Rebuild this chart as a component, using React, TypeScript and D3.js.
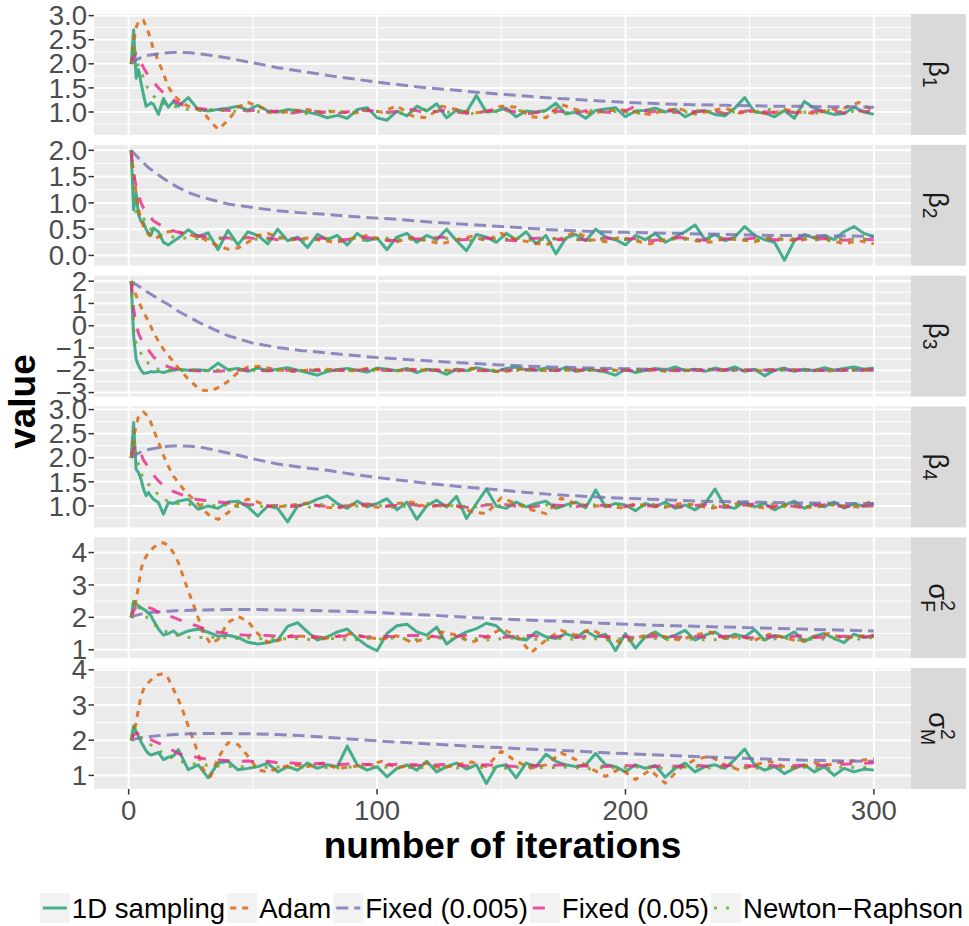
import React from "react";
import * as d3 from "d3";

// iteration grids (sampled iterations for each kind of series)
const ITER_SAMPLING = [
  1, 2, 3, 4, 5, 6, 7, 8, 9, 10,
  12, 14, 16, 18, 20, 24, 28, 32, 36, 40,
  44, 48, 52, 56, 60, 64, 68, 72, 76, 80,
  84, 88, 92, 96, 100, 104, 108, 112, 116, 120,
  124, 128, 132, 136, 140, 144, 148, 152, 156, 160,
  164, 168, 172, 176, 180, 184, 188, 192, 196, 200,
  204, 208, 212, 216, 220, 224, 228, 232, 236, 240,
  244, 248, 252, 256, 260, 264, 268, 272, 276, 280,
  284, 288, 292, 296, 300,
];
const ITER_STEP = [
  1, 2, 3, 4, 5, 6, 8, 10, 12, 14,
  16, 18, 20, 22, 24, 27, 30, 33, 36, 40,
  44, 48, 52, 56, 60, 66, 72, 78, 84, 90,
  96, 102, 108, 114, 120, 126, 132, 138, 144, 150,
  156, 162, 168, 174, 180, 186, 192, 198, 204, 210,
  216, 222, 228, 234, 240, 246, 252, 258, 264, 270,
  276, 282, 288, 294, 300,
];
const ITER_FIXED = [
  1, 3, 5, 8, 12, 16, 20, 25, 30, 40,
  50, 60, 70, 80, 90, 100, 110, 120, 130, 140,
  150, 160, 170, 180, 190, 200, 210, 220, 230, 240,
  250, 260, 270, 280, 290, 300,
];

const METHODS = ["1D sampling", "Adam", "Fixed (0.005)", "Fixed (0.05)", "Newton\u2212Raphson"];
const COLORS = ["#1B9E77", "#D95F02", "#7570B3", "#E7298A", "#66A61E"];
const DASHES = ["none", "6,6", "12,6", "12,12", "3,9"];
const X_TICKS = [0, 100, 200, 300];
// strip labels: base, superscript, subscript
const STRIPS = [
  ["\u03b2", "", "1"],
  ["\u03b2", "", "2"],
  ["\u03b2", "", "3"],
  ["\u03b2", "", "4"],
  ["\u03c3", "2", "F"],
  ["\u03c3", "2", "M"],
];

// beta 1
const B1_SAMPLING = [
  2.00, 2.70, 1.70, 1.88, 1.60, 1.35, 1.12, 1.15, 1.19, 1.16,
  0.95, 1.28, 1.10, 1.22, 1.12, 1.30, 1.05, 1.02, 1.05, 1.08,
  1.12, 1.04, 1.14, 1.02, 1.00, 1.05, 1.03, 1.00, 0.95, 0.88,
  0.93, 0.87, 1.05, 1.09, 0.88, 0.83, 1.02, 0.92, 1.12, 1.02,
  1.17, 0.88, 1.04, 1.00, 1.34, 1.00, 1.02, 1.08, 0.90, 1.02,
  1.00, 1.03, 1.18, 0.96, 1.00, 0.87, 1.03, 1.06, 1.09, 0.90,
  1.02, 1.03, 1.08, 1.00, 1.06, 0.90, 1.00, 1.03, 0.95, 0.92,
  1.08, 1.30, 1.00, 0.98, 0.90, 1.03, 0.87, 1.22, 1.08, 1.00,
  0.95, 0.97, 1.10, 1.00, 0.95,
];
const B1_ADAM = [
  2.00, 2.45, 2.75, 2.88, 2.92, 2.90, 2.65, 2.30, 2.05, 1.80,
  1.52, 1.36, 1.26, 1.18, 1.12, 1.07, 1.00, 0.80, 0.64, 0.82,
  1.10, 1.20, 1.12, 1.04, 0.98, 1.02, 1.05, 0.98, 1.02, 0.97,
  1.03, 1.00, 1.13, 0.92, 0.88, 1.12, 1.05, 0.98, 1.00, 1.12,
  1.10, 0.90, 0.88, 1.16, 1.05, 0.98, 1.02, 1.05, 1.00, 0.95,
  1.04, 1.06, 0.96, 1.02, 1.08, 0.98, 1.02, 0.95, 1.05, 1.00,
  0.97, 1.05, 1.08, 1.20, 1.02,
];
const B1_FIXED_005 = [
  2.00, 2.08, 2.13, 2.18, 2.21, 2.23, 2.24, 2.23, 2.20, 2.12,
  2.02, 1.92, 1.84, 1.76, 1.69, 1.62, 1.56, 1.50, 1.46, 1.41,
  1.37, 1.33, 1.29, 1.26, 1.23, 1.20, 1.18, 1.16, 1.15, 1.14,
  1.13, 1.12, 1.12, 1.11, 1.11, 1.10,
];
const B1_FIXED_05 = [
  2.00, 2.15, 2.22, 2.15, 2.02, 1.92, 1.75, 1.62, 1.50, 1.40,
  1.32, 1.25, 1.19, 1.14, 1.11, 1.08, 1.06, 1.04, 1.05, 1.03,
  1.05, 1.02, 1.04, 1.00, 1.02, 0.98, 1.03, 1.00, 0.97, 1.02,
  1.04, 0.99, 1.01, 1.05, 0.98, 1.03, 1.00, 0.96, 1.02, 1.06,
  1.00, 0.97, 1.03, 1.01, 0.98, 1.05, 1.00, 0.97, 1.12, 1.00,
  1.04, 0.98, 1.01, 1.03, 0.97, 1.00, 1.04, 0.99, 1.02, 0.97,
  1.01, 1.04, 0.98, 1.02, 1.00,
];
const B1_NEWTON = [
  2.00, 2.37, 2.12, 1.95, 1.85, 1.70, 1.45, 1.33, 1.25, 1.18,
  1.14, 1.12, 1.10, 1.07, 1.05, 1.06, 1.03, 1.05, 1.02, 1.04,
  1.00, 1.03, 1.01, 0.98, 1.02, 1.00, 0.97, 1.03, 1.01, 0.98,
  1.04, 1.00, 0.96, 1.02, 1.05, 0.99, 1.01, 0.97, 1.03, 1.00,
  1.04, 0.98, 1.02, 0.97, 1.01, 1.03, 0.99, 1.02, 0.96, 1.04,
  1.00, 0.98, 1.03, 1.01, 0.97, 1.02, 1.00, 1.05, 0.98, 1.01,
  0.97, 1.03, 1.00, 1.02, 0.97,
];

// beta 2
const B2_SAMPLING = [
  2.00, 0.87, 1.19, 0.77, 0.65, 0.62, 0.50, 0.42, 0.39, 0.52,
  0.45, 0.25, 0.20, 0.27, 0.33, 0.49, 0.36, 0.43, 0.11, 0.48,
  0.20, 0.45, 0.38, 0.22, 0.50, 0.28, 0.35, 0.15, 0.40, 0.30,
  0.38, 0.20, 0.42, 0.28, 0.33, 0.11, 0.35, 0.42, 0.25, 0.38,
  0.30, 0.50, 0.28, 0.09, 0.40, 0.35, 0.25, 0.42, 0.30, 0.45,
  0.22, 0.38, 0.03, 0.33, 0.40, 0.28, 0.50, 0.35, 0.30, 0.20,
  0.38, 0.30, 0.42, 0.25, 0.35, 0.45, 0.58, 0.30, 0.40, 0.28,
  0.35, 0.55, 0.38, 0.30, 0.25, -0.09, 0.28, 0.40, 0.33, 0.38,
  0.30, 0.45, 0.55, 0.42, 0.36,
];
const B2_ADAM = [
  2.00, 1.57, 1.19, 0.87, 0.68, 0.55, 0.40, 0.32, 0.35, 0.42,
  0.45, 0.46, 0.45, 0.42, 0.40, 0.36, 0.32, 0.25, 0.18, 0.12,
  0.14, 0.25, 0.38, 0.42, 0.35, 0.30, 0.33, 0.28, 0.25, 0.32,
  0.38, 0.30, 0.26, 0.34, 0.28, 0.22, 0.30, 0.36, 0.28, 0.42,
  0.30, 0.25, 0.20, 0.32, 0.45, 0.30, 0.26, 0.35, 0.28, 0.22,
  0.30, 0.35, 0.28, 0.25, 0.32, 0.30, 0.26, 0.34, 0.30, 0.28,
  0.35, 0.30, 0.22, 0.28, 0.22,
];
const B2_FIXED_005 = [
  2.00, 1.90, 1.80, 1.67, 1.53, 1.40, 1.29, 1.18, 1.10, 0.98,
  0.91, 0.85, 0.81, 0.78, 0.74, 0.71, 0.68, 0.64, 0.61, 0.58,
  0.55, 0.52, 0.49, 0.47, 0.45, 0.44, 0.43, 0.42, 0.41, 0.40,
  0.39, 0.38, 0.38, 0.37, 0.37, 0.36,
];
const B2_FIXED_05 = [
  2.00, 1.55, 1.32, 1.15, 1.00, 0.90, 0.76, 0.66, 0.60, 0.55,
  0.50, 0.47, 0.44, 0.42, 0.40, 0.38, 0.36, 0.34, 0.33, 0.33,
  0.32, 0.34, 0.31, 0.33, 0.30, 0.32, 0.30, 0.33, 0.29, 0.31,
  0.34, 0.30, 0.28, 0.32, 0.31, 0.35, 0.29, 0.31, 0.33, 0.30,
  0.28, 0.32, 0.34, 0.30, 0.31, 0.29, 0.33, 0.30, 0.32, 0.28,
  0.31, 0.34, 0.30, 0.29, 0.32, 0.30, 0.33, 0.31, 0.28, 0.32,
  0.30, 0.33, 0.29, 0.31, 0.30,
];
const B2_NEWTON = [
  2.00, 1.25, 0.80, 0.75, 0.74, 0.70, 0.55, 0.45, 0.40, 0.38,
  0.36, 0.35, 0.34, 0.33, 0.33, 0.32, 0.34, 0.31, 0.33, 0.30,
  0.32, 0.34, 0.30, 0.31, 0.33, 0.31, 0.29, 0.33, 0.30, 0.32,
  0.28, 0.34, 0.30, 0.31, 0.29, 0.33, 0.31, 0.28, 0.32, 0.30,
  0.34, 0.29, 0.31, 0.33, 0.30, 0.28, 0.32, 0.31, 0.29, 0.33,
  0.30, 0.32, 0.28, 0.31, 0.34, 0.30, 0.29, 0.32, 0.31, 0.33,
  0.30, 0.28, 0.32, 0.30, 0.31,
];

// beta 3
const B3_SAMPLING = [
  2.00, -0.45, -1.50, -1.80, -2.00, -2.13, -2.12, -2.10, -2.05, -2.08,
  -2.05, -2.10, -2.03, -2.00, -1.95, -2.00, -1.98, -2.02, -1.68, -1.98,
  -1.92, -2.05, -1.90, -2.02, -1.95, -1.88, -2.00, -2.10, -2.22, -2.05,
  -1.98, -1.92, -2.00, -2.08, -1.90, -1.95, -2.02, -1.92, -2.10, -1.95,
  -2.00, -2.18, -1.95, -2.02, -1.88, -1.98, -2.05, -1.92, -1.85, -1.98,
  -2.00, -1.90, -2.02, -1.88, -2.05, -1.95, -2.00, -2.08, -2.22, -1.95,
  -2.10, -2.00, -1.92, -2.00, -1.85, -2.02, -1.95, -2.05, -1.90, -2.00,
  -1.85, -2.05, -1.95, -2.25, -2.00, -1.90, -2.05, -1.95, -2.02, -1.88,
  -2.00, -1.92, -1.85, -1.95, -1.90,
];
const B3_ADAM = [
  2.00, 1.70, 1.35, 1.10, 0.85, 0.60, 0.20, -0.30, -0.70, -1.05,
  -1.35, -1.60, -1.90, -2.15, -2.40, -2.70, -2.90, -2.93, -2.78, -2.50,
  -2.10, -1.85, -1.82, -1.90, -1.98, -2.05, -2.00, -1.95, -1.98, -2.02,
  -1.92, -1.98, -2.03, -1.95, -2.00, -1.97, -2.05, -1.92, -2.00, -2.08,
  -1.98, -1.93, -2.02, -1.96, -2.04, -1.98, -1.95, -2.02, -2.00, -1.96,
  -2.04, -1.98, -2.02, -1.95, -2.00, -1.97, -2.03, -1.98, -1.94, -2.01,
  -1.97, -2.03, -1.98, -1.95, -2.00,
];
const B3_FIXED_005 = [
  2.00, 1.85, 1.70, 1.48, 1.20, 0.95, 0.65, 0.35, 0.05, -0.45,
  -0.78, -0.98, -1.12, -1.22, -1.33, -1.43, -1.50, -1.57, -1.64, -1.70,
  -1.76, -1.81, -1.85, -1.88, -1.91, -1.93, -1.95, -1.96, -1.97, -1.98,
  -1.98, -1.99, -1.99, -2.00, -2.00, -2.00,
];
const B3_FIXED_05 = [
  2.00, 0.75, 0.10, -0.35, -0.60, -0.82, -1.10, -1.40, -1.60, -1.75,
  -1.85, -1.92, -1.96, -1.98, -2.00, -2.02, -2.03, -2.05, -2.04, -2.02,
  -2.00, -1.98, -2.00, -2.02, -1.99, -2.00, -1.98, -2.02, -1.99, -2.01,
  -1.97, -2.00, -2.02, -1.98, -2.00, -2.01, -1.98, -2.00, -2.02, -1.99,
  -2.00, -1.97, -2.01, -2.00, -1.98, -2.02, -2.00, -1.99, -2.01, -1.98,
  -2.00, -2.02, -1.99, -2.00, -1.98, -2.01, -2.00, -1.99, -2.02, -1.98,
  -2.00, -2.01, -1.99, -2.00, -1.98,
];
const B3_NEWTON = [
  2.00, -0.15, -0.80, -1.05, -1.25, -1.42, -1.70, -1.88, -1.95, -1.98,
  -2.00, -1.98, -2.00, -2.02, -2.00, -1.98, -2.00, -2.02, -1.99, -2.00,
  -1.98, -2.01, -2.00, -1.98, -2.00, -1.99, -2.01, -2.00, -1.98, -2.02,
  -2.00, -1.99, -2.01, -1.98, -2.00, -2.02, -1.99, -2.00, -1.98, -2.01,
  -2.00, -1.99, -2.02, -1.98, -2.00, -2.01, -1.99, -2.00, -1.98, -2.02,
  -2.00, -1.99, -2.01, -1.98, -2.00, -2.02, -1.99, -2.00, -1.98, -2.01,
  -2.00, -1.99, -2.02, -1.98, -2.00,
];

// beta 4
const B4_SAMPLING = [
  2.00, 2.73, 1.76, 1.69, 1.55, 1.35, 1.21, 1.28, 1.20, 1.14,
  1.07, 0.83, 1.07, 1.05, 1.10, 1.14, 0.93, 1.00, 0.95, 1.08,
  1.10, 0.98, 0.79, 1.00, 0.95, 0.67, 1.00, 1.05, 1.14, 1.21,
  1.05, 0.95, 1.10, 0.98, 1.05, 1.15, 0.92, 1.08, 0.72, 1.00,
  1.12, 0.98, 1.20, 0.74, 1.05, 1.35, 1.00, 0.95, 1.08, 0.98,
  1.05, 1.10, 0.95, 1.02, 1.08, 0.96, 1.33, 0.98, 1.05, 1.02,
  0.90, 1.05, 0.98, 1.08, 0.95, 1.02, 0.92, 1.05, 1.35, 1.00,
  0.95, 1.08, 0.98, 1.05, 0.92, 1.02, 1.10, 0.95, 1.05, 0.98,
  1.08, 0.96, 1.04, 1.00, 1.05,
];
const B4_ADAM = [
  2.00, 2.40, 2.68, 2.85, 2.93, 2.95, 2.85, 2.59, 2.32, 2.05,
  1.82, 1.62, 1.49, 1.35, 1.24, 1.10, 0.92, 0.78, 0.72, 0.86,
  1.05, 1.14, 1.08, 1.00, 0.98, 1.02, 1.06, 0.98, 0.95, 1.03,
  1.00, 0.96, 1.05, 1.08, 0.98, 1.02, 1.00, 0.88, 0.84, 1.17,
  1.05, 0.92, 0.84, 1.16, 1.05, 0.98, 1.02, 0.96, 1.04, 1.00,
  0.97, 1.05, 1.02, 0.95, 1.00, 1.06, 0.98, 0.95, 1.02, 1.00,
  0.96, 1.03, 1.00, 0.98, 1.12,
];
const B4_FIXED_005 = [
  2.00, 2.07, 2.12, 2.17, 2.21, 2.24, 2.25, 2.24, 2.21, 2.10,
  1.98, 1.87, 1.80, 1.74, 1.66, 1.59, 1.53, 1.47, 1.42, 1.37,
  1.33, 1.28, 1.24, 1.21, 1.18, 1.16, 1.14, 1.12, 1.10, 1.09,
  1.08, 1.07, 1.06, 1.06, 1.05, 1.05,
];
const B4_FIXED_05 = [
  2.00, 2.18, 2.25, 2.20, 2.08, 1.95, 1.80, 1.64, 1.52, 1.42,
  1.35, 1.30, 1.26, 1.22, 1.18, 1.14, 1.12, 1.10, 1.08, 1.06,
  1.05, 1.03, 1.02, 1.00, 1.01, 0.99, 1.03, 1.00, 0.97, 1.02,
  1.04, 0.99, 1.01, 1.03, 0.98, 1.02, 1.00, 0.96, 1.02, 1.04,
  1.00, 0.97, 1.03, 1.01, 0.98, 1.04, 1.00, 0.97, 1.02, 1.00,
  1.03, 0.98, 1.01, 1.03, 0.97, 1.00, 1.04, 0.99, 1.02, 0.97,
  1.01, 1.03, 0.98, 1.00, 1.00,
];
const B4_NEWTON = [
  2.00, 2.32, 2.05, 1.85, 1.68, 1.55, 1.45, 1.36, 1.22, 1.14,
  1.10, 1.07, 1.05, 1.04, 1.03, 1.02, 1.03, 1.01, 1.00, 1.02,
  0.99, 1.01, 1.00, 0.98, 1.01, 1.00, 0.97, 1.03, 1.01, 0.98,
  1.04, 1.00, 0.96, 1.02, 1.05, 0.99, 1.01, 0.97, 1.03, 1.00,
  1.04, 0.98, 1.02, 0.97, 1.01, 1.03, 0.99, 1.02, 0.96, 1.04,
  1.00, 0.98, 1.03, 1.01, 0.97, 1.02, 1.00, 1.05, 0.98, 1.01,
  0.97, 1.03, 1.00, 1.02, 0.98,
];

// sigma^2 F
const SF_SAMPLING = [
  2.00, 2.50, 2.42, 2.35, 2.30, 2.25, 2.20, 2.12, 2.05, 1.90,
  1.64, 1.45, 1.50, 1.58, 1.45, 1.58, 1.64, 1.54, 1.42, 1.45,
  1.38, 1.23, 1.18, 1.22, 1.30, 1.72, 1.84, 1.55, 1.30, 1.40,
  1.55, 1.64, 1.35, 1.12, 0.97, 1.50, 1.74, 1.79, 1.55, 1.45,
  1.70, 1.18, 1.40, 1.55, 1.65, 1.82, 1.74, 1.45, 1.35, 1.30,
  1.55, 1.40, 1.35, 1.50, 1.38, 1.58, 1.40, 1.48, 0.97, 1.50,
  1.05, 1.40, 1.55, 1.35, 1.45, 1.60, 1.30, 1.45, 1.55, 1.35,
  1.48, 1.40, 1.62, 1.30, 1.45, 1.38, 1.55, 1.25, 1.42, 1.50,
  1.35, 1.22, 1.48, 1.38, 1.43,
];
const SF_ADAM = [
  2.00, 2.30, 2.51, 3.00, 3.48, 3.75, 4.00, 4.15, 4.27, 4.30,
  4.22, 4.00, 3.69, 3.25, 2.82, 2.20, 1.55, 1.18, 1.32, 1.84,
  2.03, 1.88, 1.50, 1.23, 1.28, 1.45, 1.40, 1.33, 1.42, 1.50,
  1.38, 1.33, 1.43, 1.23, 1.35, 1.55, 1.45, 1.23, 1.40, 1.64,
  1.45, 0.91, 1.30, 1.60, 1.45, 1.64, 1.40, 1.23, 1.35, 1.50,
  1.40, 1.30, 1.45, 1.55, 1.35, 1.42, 1.30, 1.48, 1.38, 1.25,
  1.40, 1.50, 1.35, 1.42, 1.45,
];
const SF_FIXED_005 = [
  2.00, 2.06, 2.10, 2.14, 2.17, 2.19, 2.21, 2.22, 2.23, 2.24,
  2.24, 2.23, 2.22, 2.20, 2.18, 2.15, 2.11, 2.07, 2.03, 1.99,
  1.95, 1.92, 1.89, 1.86, 1.82, 1.79, 1.76, 1.74, 1.72, 1.70,
  1.68, 1.66, 1.64, 1.62, 1.60, 1.58,
];
const SF_FIXED_05 = [
  2.00, 2.20, 2.32, 2.35, 2.34, 2.32, 2.30, 2.25, 2.15, 2.10,
  2.05, 2.00, 1.94, 1.88, 1.82, 1.75, 1.66, 1.58, 1.54, 1.50,
  1.47, 1.45, 1.46, 1.44, 1.42, 1.40, 1.43, 1.38, 1.41, 1.44,
  1.39, 1.42, 1.40, 1.45, 1.43, 1.38, 1.41, 1.46, 1.40, 1.37,
  1.42, 1.44, 1.39, 1.41, 1.38, 1.43, 1.40, 1.42, 1.37, 1.40,
  1.43, 1.39, 1.41, 1.38, 1.42, 1.40, 1.36, 1.41, 1.39, 1.43,
  1.38, 1.40, 1.42, 1.39, 1.41,
];
const SF_NEWTON = [
  2.00, 2.50, 2.45, 2.33, 2.20, 2.10, 1.95, 1.80, 1.68, 1.60,
  1.53, 1.48, 1.44, 1.40, 1.38, 1.40, 1.37, 1.39, 1.36, 1.38,
  1.35, 1.37, 1.34, 1.36, 1.33, 1.35, 1.32, 1.36, 1.34, 1.30,
  1.35, 1.33, 1.37, 1.31, 1.34, 1.36, 1.32, 1.35, 1.30, 1.34,
  1.37, 1.33, 1.31, 1.35, 1.32, 1.36, 1.30, 1.34, 1.33, 1.37,
  1.31, 1.35, 1.32, 1.30, 1.34, 1.36, 1.31, 1.33, 1.35, 1.30,
  1.34, 1.32, 1.36, 1.33, 1.38,
];

// sigma^2 M
const SM_SAMPLING = [
  2.00, 2.40, 2.25, 2.10, 1.95, 1.83, 1.70, 1.62, 1.58, 1.60,
  1.65, 1.45, 1.52, 1.55, 1.73, 1.16, 1.30, 0.93, 1.35, 1.40,
  1.16, 1.20, 1.25, 1.35, 1.10, 1.25, 1.15, 1.35, 1.20, 1.30,
  1.25, 1.83, 1.30, 1.15, 1.25, 0.96, 1.20, 1.30, 1.15, 1.40,
  1.10, 1.25, 1.35, 1.18, 1.30, 0.77, 1.25, 1.30, 0.93, 1.35,
  1.25, 1.60, 1.40, 1.30, 1.25, 1.30, 1.62, 1.30, 1.25, 1.10,
  1.30, 1.20, 1.28, 0.95, 1.20, 1.35, 1.10, 1.25, 1.30, 1.20,
  1.45, 1.75, 1.30, 1.15, 1.25, 1.05, 1.20, 1.30, 1.10, 1.25,
  1.00, 1.20, 1.10, 1.18, 1.15,
];
const SM_ADAM = [
  2.00, 2.20, 2.50, 2.90, 3.26, 3.45, 3.64, 3.78, 3.86, 3.89,
  3.75, 3.45, 3.16, 2.80, 2.40, 1.83, 1.16, 0.97, 1.50, 1.93,
  1.88, 1.55, 1.16, 1.10, 1.20, 1.30, 1.25, 1.35, 1.20, 1.25,
  1.30, 1.40, 1.22, 1.28, 1.35, 1.20, 1.30, 1.38, 1.25, 1.69,
  1.40, 1.20, 1.30, 1.64, 1.45, 1.20, 0.97, 1.20, 0.88, 1.15,
  0.78, 1.20, 1.45, 1.55, 1.30, 1.15, 1.30, 1.40, 1.25, 1.20,
  1.35, 1.30, 1.40, 1.42, 1.48,
];
const SM_FIXED_005 = [
  2.00, 2.04, 2.07, 2.10, 2.13, 2.15, 2.17, 2.18, 2.19, 2.19,
  2.18, 2.16, 2.13, 2.08, 2.03, 1.98, 1.94, 1.90, 1.86, 1.82,
  1.79, 1.75, 1.72, 1.69, 1.65, 1.62, 1.59, 1.56, 1.53, 1.51,
  1.48, 1.46, 1.44, 1.42, 1.41, 1.40,
];
const SM_FIXED_05 = [
  2.00, 2.15, 2.20, 2.18, 2.15, 2.12, 2.05, 1.98, 1.92, 1.85,
  1.78, 1.70, 1.62, 1.58, 1.55, 1.52, 1.48, 1.45, 1.44, 1.42,
  1.40, 1.41, 1.38, 1.40, 1.36, 1.35, 1.32, 1.34, 1.30, 1.33,
  1.31, 1.28, 1.32, 1.30, 1.27, 1.31, 1.29, 1.26, 1.30, 1.28,
  1.25, 1.29, 1.27, 1.30, 1.26, 1.28, 1.25, 1.29, 1.27, 1.24,
  1.28, 1.26, 1.29, 1.25, 1.27, 1.30, 1.26, 1.28, 1.25, 1.29,
  1.27, 1.30, 1.32, 1.34, 1.36,
];
const SM_NEWTON = [
  2.00, 2.35, 2.25, 2.12, 2.05, 1.98, 1.90, 1.82, 1.72, 1.62,
  1.55, 1.48, 1.42, 1.38, 1.35, 1.32, 1.30, 1.28, 1.27, 1.26,
  1.25, 1.24, 1.25, 1.23, 1.24, 1.22, 1.25, 1.23, 1.21, 1.24,
  1.22, 1.25, 1.20, 1.23, 1.22, 1.26, 1.21, 1.24, 1.22, 1.20,
  1.23, 1.25, 1.21, 1.24, 1.22, 1.19, 1.23, 1.21, 1.24, 1.22,
  1.20, 1.23, 1.25, 1.21, 1.22, 1.24, 1.20, 1.23, 1.21, 1.25,
  1.22, 1.20, 1.24, 1.22, 1.23,
];

const ITERS = [ITER_SAMPLING, ITER_STEP, ITER_FIXED, ITER_STEP, ITER_STEP];
const PANELS = [
  [B1_SAMPLING, B1_ADAM, B1_FIXED_005, B1_FIXED_05, B1_NEWTON],
  [B2_SAMPLING, B2_ADAM, B2_FIXED_005, B2_FIXED_05, B2_NEWTON],
  [B3_SAMPLING, B3_ADAM, B3_FIXED_005, B3_FIXED_05, B3_NEWTON],
  [B4_SAMPLING, B4_ADAM, B4_FIXED_005, B4_FIXED_05, B4_NEWTON],
  [SF_SAMPLING, SF_ADAM, SF_FIXED_005, SF_FIXED_05, SF_NEWTON],
  [SM_SAMPLING, SM_ADAM, SM_FIXED_005, SM_FIXED_05, SM_NEWTON],
];

const W = 969;
const H = 926;
const LEFT = 94;
const RIGHT = 911;
const STRIP_W = 55;
const TOP = 14;
const BOTTOM = 789;
const GAP = 10;
const FONT = "'Liberation Sans', Arial, Helvetica, sans-serif";
const FS = 27.6;
const TITLE_FS = 37;

const expand = ([lo, hi]: number[]) => [lo - 0.05 * (hi - lo), hi + 0.05 * (hi - lo)];
const minus = (s: string) => s.replace("-", "\u2212");

let ctx: CanvasRenderingContext2D | null = null;
function textWidth(s: string, size: number, weight = "normal") {
  if (!ctx) ctx = document.createElement("canvas").getContext("2d");
  if (!ctx) return s.length * size * 0.55;
  ctx.font = `${weight} ${size}px ${FONT}`;
  return ctx.measureText(s).width;
}

function minorsOf(ticks: number[], domain: number[]) {
  const step = ticks[1] - ticks[0];
  const m = ticks.map((t) => t - step / 2).concat([ticks[ticks.length - 1] + step / 2]);
  return m.filter((v) => v >= domain[0] && v <= domain[1]);
}

function Strip({ cx, cy, label }: { cx: number; cy: number; label: string[] }) {
  const [base, sup, sub] = label;
  const small = FS * 0.7;
  const wb = textWidth(base, FS);
  const ws = Math.max(sup ? textWidth(sup, small) : 0, textWidth(sub, small));
  const x0 = -(wb + ws) / 2;
  const by = FS * 0.33;
  return (
    <g transform={`translate(${cx},${cy}) rotate(90)`} fill="#1A1A1A" fontFamily={FONT}>
      <text x={x0} y={by} fontSize={FS}>{base}</text>
      {sup && <text x={x0 + wb} y={by - FS * 0.42} fontSize={small}>{sup}</text>}
      <text x={x0 + wb} y={by + (sup ? FS * 0.3 : FS * 0.22)} fontSize={small}>{sub}</text>
    </g>
  );
}

export default function App() {
  const panelH = (BOTTOM - TOP - GAP * (PANELS.length - 1)) / PANELS.length;
  const x = d3.scaleLinear().domain(expand(d3.extent(ITER_SAMPLING) as number[])).range([LEFT, RIGHT]);
  const xDomain = x.domain();
  const xMinor = minorsOf(X_TICKS, xDomain);

  const panels = PANELS.map((series, pi) => {
    const top = TOP + pi * (panelH + GAP);
    const all = series.flat();
    const y = d3.scaleLinear().domain(expand(d3.extent(all) as number[])).range([top + panelH, top]);
    const ticks = y.ticks(4);
    const step = ticks[1] - ticks[0];
    const fmt = d3.format(`.${d3.precisionFixed(step)}f`);
    const minor = minorsOf(ticks, y.domain());
    const line = d3
      .line<[number, number]>()
      .x((d) => x(d[0]))
      .y((d) => y(d[1]));
    return { top, y, ticks, fmt, minor, series, line };
  });

  // legend layout
  const keyW = 30;
  const items = METHODS.map((m) => ({ m, w: textWidth(m, FS) }));
  const total = d3.sum(items, (d) => keyW + 2 + d.w + 2);
  let cursor = (LEFT + RIGHT) / 2 - total / 2;
  const legend = items.map((d, i) => {
    const pos = cursor;
    cursor += keyW + 2 + d.w + 2;
    return { ...d, x: pos, i };
  });
  const legendTop = 893;

  return (
    <svg
      width={W}
      height={H}
      style={{ position: "absolute", left: 0, top: 0, background: "#fff" }}
      fontFamily={FONT}
    >
      <defs>
        {panels.map((p, pi) => (
          <clipPath id={`clip${pi}`} key={pi}>
            <rect x={LEFT} y={p.top} width={RIGHT - LEFT} height={panelH} />
          </clipPath>
        ))}
      </defs>
      {panels.map((p, pi) => (
        <g key={pi}>
          <rect x={LEFT} y={p.top} width={RIGHT - LEFT} height={panelH} fill="#EBEBEB" />
          {p.minor.map((v) => (
            <line key={`ym${v}`} x1={LEFT} x2={RIGHT} y1={p.y(v)} y2={p.y(v)} stroke="#fff" strokeWidth={1} />
          ))}
          {xMinor.map((v) => (
            <line key={`xm${v}`} x1={x(v)} x2={x(v)} y1={p.top} y2={p.top + panelH} stroke="#fff" strokeWidth={1} />
          ))}
          {p.ticks.map((v) => (
            <line key={`yM${v}`} x1={LEFT} x2={RIGHT} y1={p.y(v)} y2={p.y(v)} stroke="#fff" strokeWidth={2} />
          ))}
          {X_TICKS.map((v) => (
            <line key={`xM${v}`} x1={x(v)} x2={x(v)} y1={p.top} y2={p.top + panelH} stroke="#fff" strokeWidth={2} />
          ))}
          <g clipPath={`url(#clip${pi})`}>
            {p.series.map((vals, si) => (
              <path
                key={si}
                d={p.line(d3.zip(ITERS[si], vals) as [number, number][]) || ""}
                fill="none"
                stroke={COLORS[si]}
                strokeOpacity={0.8}
                strokeWidth={3}
                strokeDasharray={DASHES[si]}
                strokeLinejoin="round"
              />
            ))}
          </g>
          {p.ticks.map((v) => (
            <g key={`t${v}`}>
              <line x1={LEFT - 5.5} x2={LEFT} y1={p.y(v)} y2={p.y(v)} stroke="#333333" strokeWidth={1.5} />
              <text x={LEFT - 7} y={p.y(v)} dy="0.35em" textAnchor="end" fontSize={FS} fill="#4D4D4D">
                {minus(p.fmt(v))}
              </text>
            </g>
          ))}
          <rect x={RIGHT} y={p.top} width={STRIP_W} height={panelH} fill="#D9D9D9" />
          <Strip cx={RIGHT + STRIP_W / 2} cy={p.top + panelH / 2} label={STRIPS[pi]} />
        </g>
      ))}

      {X_TICKS.map((v) => (
        <g key={`xt${v}`}>
          <line x1={x(v)} x2={x(v)} y1={BOTTOM} y2={BOTTOM + 5.5} stroke="#333333" strokeWidth={1.5} />
          <text x={x(v)} y={820} textAnchor="middle" fontSize={FS} fill="#4D4D4D">
            {v}
          </text>
        </g>
      ))}

      <text x={(LEFT + RIGHT) / 2} y={858} textAnchor="middle" fontSize={TITLE_FS} fontWeight="bold" fill="#000">
        number of iterations
      </text>
      <text
        transform={`translate(35,${(TOP + BOTTOM) / 2}) rotate(-90)`}
        textAnchor="middle"
        fontSize={TITLE_FS}
        fontWeight="bold"
        fill="#000"
      >
        value
      </text>

      {legend.map((d) => (
        <g key={d.m}>
          <rect x={d.x} y={legendTop} width={keyW} height={keyW} fill="#F2F2F2" />
          <line
            x1={d.x + keyW * 0.1}
            x2={d.x + keyW * 0.9}
            y1={legendTop + keyW / 2}
            y2={legendTop + keyW / 2}
            stroke={COLORS[d.i]}
            strokeOpacity={0.8}
            strokeWidth={3}
            strokeDasharray={DASHES[d.i]}
          />
          <text x={d.x + keyW + 2} y={legendTop + keyW / 2} dy="0.35em" fontSize={FS} fill="#000">
            {d.m}
          </text>
        </g>
      ))}
    </svg>
  );
}
